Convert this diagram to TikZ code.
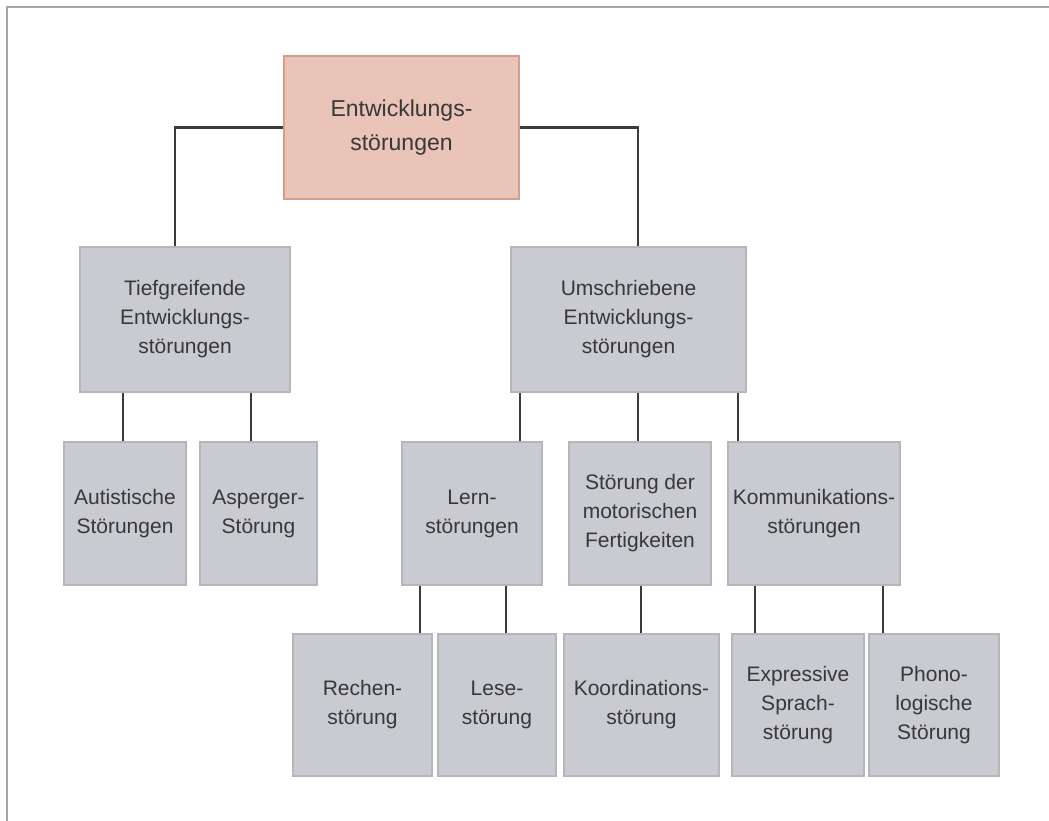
\documentclass[tikz,border=0pt]{standalone}
\usepackage{fontspec}
\setmainfont{Liberation Sans}
\definecolor{pinkfill}{HTML}{EAC4B9}
\definecolor{pinkline}{HTML}{D69C8C}
\definecolor{grayfill}{HTML}{C9CBD0}
\definecolor{grayline}{HTML}{B4B6BB}
\definecolor{txt}{HTML}{383838}
\definecolor{conn}{HTML}{3C3C3C}
\definecolor{frame}{HTML}{A6A6A6}
\begin{document}
\begin{tikzpicture}[x=1pt,y=-1pt,
  box/.style={draw=grayline, fill=grayfill, line width=1.5pt, align=center, text=txt,
    font=\fontsize{21}{29}\selectfont, inner sep=0pt},
  rootbox/.style={box, draw=pinkline, fill=pinkfill, font=\fontsize{23}{34}\selectfont},
  link/.style={draw=conn, line width=2.4pt}]
\useasboundingbox (0,0) rectangle (1049,821);
\fill[white] (0,0) rectangle (1049,821);
\draw[frame, line width=2pt] (7,821) -- (7,7) -- (1049,7);

\node[rootbox, minimum width=235pt, minimum height=143pt] (root) at (401.5,127.5) {Entwicklungs-\\störungen};
\node[box, minimum width=210pt, minimum height=145pt] (tief) at (185,319.5) {Tiefgreifende\\Entwicklungs-\\störungen};
\node[box, minimum width=235pt, minimum height=145pt] (umsch) at (628.5,319.5) {Umschriebene\\Entwicklungs-\\störungen};

\node[box, minimum width=122pt, minimum height=143pt] (aut) at (125,513.5) {Autistische\\Störungen};
\node[box, minimum width=117pt, minimum height=143pt] (asp) at (258.5,513.5) {Asperger-\\Störung};
\node[box, minimum width=140pt, minimum height=143pt] (lern) at (472,513.5) {Lern-\\störungen};
\node[box, minimum width=142pt, minimum height=143pt] (mot) at (640,513.5) {Störung der\\motorischen\\Fertigkeiten};
\node[box, minimum width=172pt, minimum height=143pt] (komm) at (814,513.5) {Kommunikations-\\störungen};

\node[box, minimum width=139pt, minimum height=142pt] (rech) at (362.5,705) {Rechen-\\störung};
\node[box, minimum width=118pt, minimum height=142pt] (lese) at (497,705) {Lese-\\störung};
\node[box, minimum width=155pt, minimum height=142pt] (koord) at (641.5,705) {Koordinations-\\störung};
\node[box, minimum width=132pt, minimum height=142pt] (expr) at (798,705) {Expressive\\Sprach-\\störung};
\node[box, minimum width=130pt, minimum height=142pt] (phon) at (934,705) {Phono-\\logische\\Störung};

\draw[link] (root.west) -| (tief.north -| 175,0);
\draw[link] (root.east) -| (umsch.north -| 638,0);

\draw[link] (tief.south -| 123,0) -- (aut.north -| 123,0);
\draw[link] (tief.south -| 251,0) -- (asp.north -| 251,0);

\draw[link] (umsch.south -| 520,0) -- (lern.north -| 520,0);
\draw[link] (umsch.south -| 638,0) -- (mot.north -| 638,0);
\draw[link] (umsch.south -| 738,0) -- (komm.north -| 738,0);

\draw[link] (lern.south -| 420,0) -- (rech.north -| 420,0);
\draw[link] (lern.south -| 506,0) -- (lese.north -| 506,0);
\draw[link] (mot.south -| 641,0) -- (koord.north -| 641,0);
\draw[link] (komm.south -| 755,0) -- (expr.north -| 755,0);
\draw[link] (komm.south -| 883,0) -- (phon.north -| 883,0);
\end{tikzpicture}
\end{document}
